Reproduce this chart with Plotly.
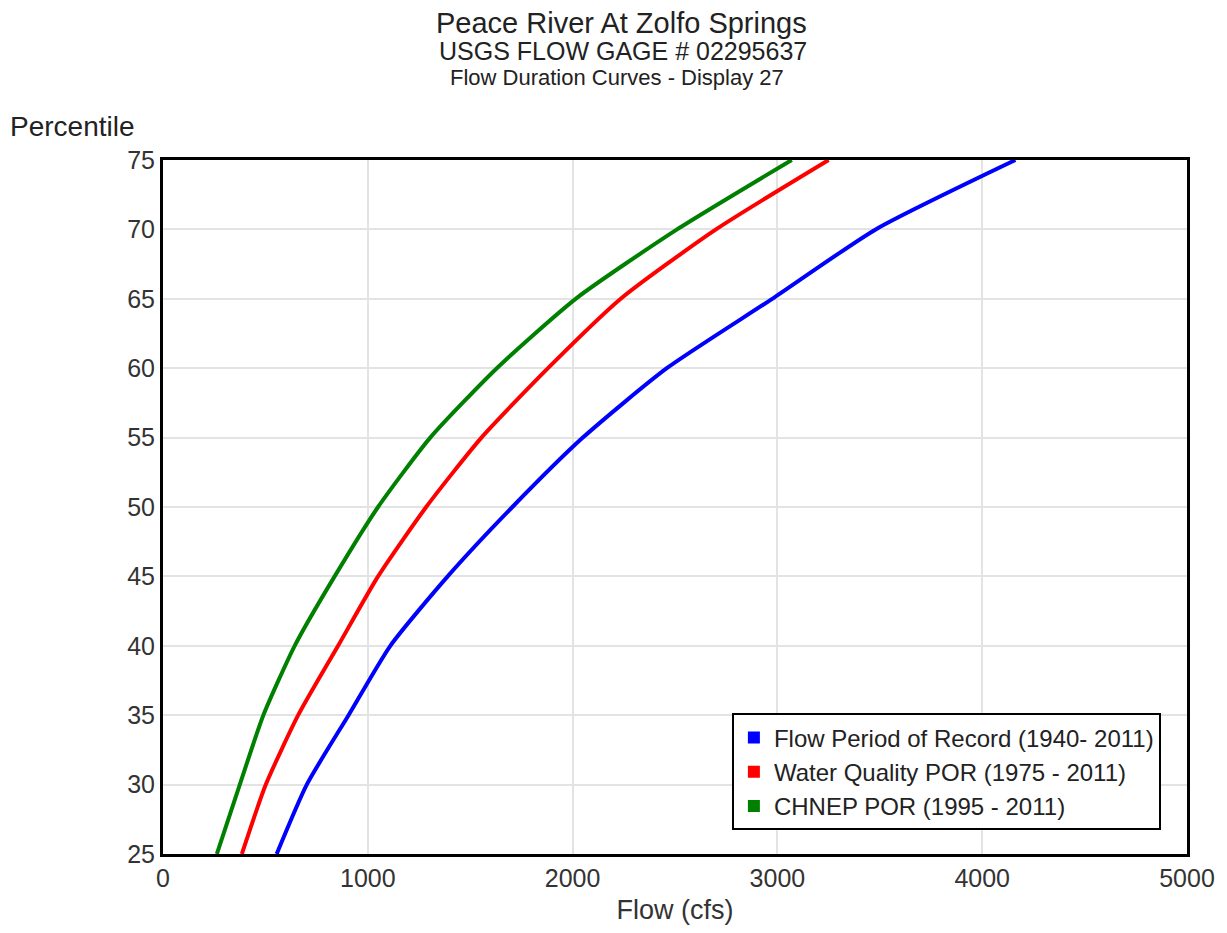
import plotly.graph_objects as go

percentile = [25, 30, 35, 40, 45, 50, 55, 60, 65, 70, 75]
flow_por = [555, 702, 906, 1110, 1390, 1706, 2050, 2460, 2975, 3480, 4162]
wq_por = [385, 502, 660, 855, 1050, 1285, 1555, 1880, 2235, 2700, 3250]
chnep_por = [263, 375, 490, 643, 838, 1050, 1305, 1630, 2015, 2510, 3070]

names = ["Flow Period of Record (1940- 2011)",
         "Water Quality POR (1975 - 2011)",
         "CHNEP POR (1995 - 2011)"]
colors = ["#0000ff", "#ff0000", "#008000"]
series = [flow_por, wq_por, chnep_por]

W, H = 1227, 933
L, R, T, B = 163, 38, 160, 77

fig = go.Figure()
for name, color, vals in zip(names, colors, series):
    fig.add_trace(go.Scatter(x=vals, y=percentile, mode="lines",
                             line=dict(color=color, width=4, shape="spline", smoothing=0.6),
                             showlegend=False, hoverinfo="x+y", name=name))
for name, color in zip(names, colors):
    fig.add_trace(go.Scatter(x=[None], y=[None], mode="markers",
                             marker=dict(symbol="square", size=7, color=color),
                             name=name, showlegend=True))

FONT = "Liberation Sans, Arial, sans-serif"
pw = W - L - R
ph = H - T - B

def px_x(p):
    return (p - L) / pw

def px_y(p):
    return (H - B - p) / ph

fig.update_layout(
    width=W, height=H,
    margin=dict(l=L, r=R, t=T, b=B, pad=0),
    paper_bgcolor="white", plot_bgcolor="white",
    font=dict(family=FONT, color="#333333", size=25),
    xaxis=dict(range=[0, 5000], dtick=1000, showgrid=True, gridcolor="#e3e3e3",
               gridwidth=2, zeroline=False, showline=True, linecolor="black",
               linewidth=3, mirror=True, ticks="", tickfont=dict(size=25),
               title=dict(text="Flow (cfs)", font=dict(size=27), standoff=10)),
    yaxis=dict(range=[25, 75], dtick=5, showgrid=True, gridcolor="#e3e3e3",
               gridwidth=2, zeroline=False, showline=True, linecolor="black",
               linewidth=3, mirror=True, ticks="", tickfont=dict(size=25)),
    legend=dict(x=px_x(733), y=px_y(715), xanchor="left", yanchor="top",
                bgcolor="white", bordercolor="black", borderwidth=2,
                font=dict(size=24, color="#222222"), itemwidth=30,
                tracegroupgap=0, itemsizing="constant"),
    showlegend=True,
)

anns = [
    dict(text="Peace River At Zolfo Springs", x=px_x(622), y=px_y(23), size=29),
    dict(text="USGS FLOW GAGE # 02295637", x=px_x(624), y=px_y(51), size=25),
    dict(text="Flow Duration Curves - Display 27", x=px_x(618), y=px_y(77), size=22),
]
for a in anns:
    fig.add_annotation(text=a["text"], x=a["x"], y=a["y"], xref="paper", yref="paper",
                       xanchor="center", yanchor="middle", showarrow=False,
                       font=dict(size=a["size"], color="#222222", family=FONT))
fig.add_annotation(text="Percentile", x=px_x(8), y=px_y(126), xref="paper", yref="paper",
                   xanchor="left", yanchor="middle", showarrow=False,
                   font=dict(size=28, color="#222222", family=FONT))

fig.write_html("out.html")
